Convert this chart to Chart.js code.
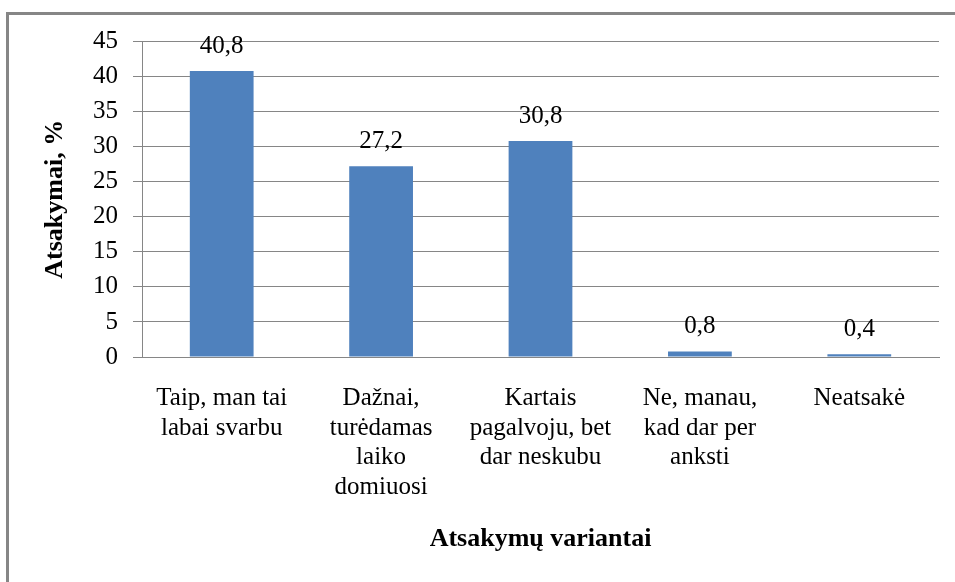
<!DOCTYPE html>
<html>
<head>
<meta charset="utf-8">
<script src="https://cdn.jsdelivr.net/npm/chart.js@4"></script>
<style>
  html, body { margin:0; padding:0; background:#fff; }
  #wrap { position:relative; width:955px; height:582px; overflow:hidden; }
  #frame { position:absolute; left:6px; top:12px; width:1000px; height:700px; border:3px solid #868686; box-sizing:border-box; }
  #chart { position:absolute; left:0; top:0; }
</style>
</head>
<body>
<div id="wrap">
  <div id="frame"></div>
  <canvas id="chart" width="955" height="582"></canvas>
</div>
<script>
// Data
const categories = [
  ['Taip, man tai', 'labai svarbu'],
  ['Dažnai,', 'turėdamas', 'laiko', 'domiuosi'],
  ['Kartais', 'pagalvoju, bet', 'dar neskubu'],
  ['Ne, manau,', 'kad dar per', 'anksti'],
  ['Neatsakė']
];
const answers = [40.8, 27.2, 30.8, 0.8, 0.4];
const yTicks = [0, 5, 10, 15, 20, 25, 30, 35, 40, 45];

const serif = '"Liberation Serif", "Times New Roman", serif';
const gridColor = '#868686';

Chart.defaults.font.family = serif;
Chart.defaults.font.size = 25;
Chart.defaults.color = '#000';

// value labels above the bars
const valueLabels = {
  id: 'valueLabels',
  afterDatasetsDraw(chart){
    const ctx = chart.ctx;
    const meta = chart.getDatasetMeta(0);
    ctx.save();
    ctx.font = '25px ' + serif;
    ctx.fillStyle = '#000';
    ctx.textAlign = 'center';
    ctx.textBaseline = 'alphabetic';
    meta.data.forEach((bar, i) => {
      const txt = String(answers[i]).replace('.', ',');
      ctx.fillText(txt, bar.x, bar.y - 18);
    });
    ctx.restore();
  }
};

new Chart(document.getElementById('chart').getContext('2d'), {
  type: 'bar',
  data: {
    labels: categories,
    datasets: [{
      data: answers,
      backgroundColor: '#4F81BD',
      barPercentage: 0.4,
      categoryPercentage: 1
    }]
  },
  options: {
    responsive: false,
    animation: false,
    layout: { padding: { top: 41.5, right: 16, left: 0, bottom: 0 } },
    plugins: { legend: { display: false }, tooltip: { enabled: false } },
    scales: {
      x: {
        grid: { display: false },
        border: { display: true, color: gridColor, width: 1 },
        ticks: {
          color: '#000',
          font: { family: serif, size: 25, lineHeight: 1.18 },
          padding: 19,
          maxRotation: 0,
          minRotation: 0,
          autoSkip: false
        },
        title: {
          display: true,
          text: 'Atsakymų variantai',
          color: '#000',
          font: { family: serif, size: 26, weight: 'bold' },
          padding: { top: 0, bottom: 27 }
        },
        afterFit(scale){ scale.height = 225; }
      },
      y: {
        min: 0,
        max: 45,
        afterBuildTicks(scale){ scale.ticks = yTicks.map(v => ({ value: v })); },
        grid: { color: gridColor, lineWidth: 1, tickLength: 9, drawTicks: true },
        border: { display: true, color: gridColor, width: 1 },
        ticks: {
          color: '#000',
          font: { family: serif, size: 25 },
          padding: 15
        },
        title: {
          display: true,
          text: 'Atsakymai, %',
          color: '#000',
          font: { family: serif, size: 26, weight: 'bold' },
          padding: { top: 40, bottom: 0 }
        },
        afterFit(scale){ scale.width = 142; }
      }
    }
  },
  plugins: [valueLabels]
});
</script>
</body>
</html>
